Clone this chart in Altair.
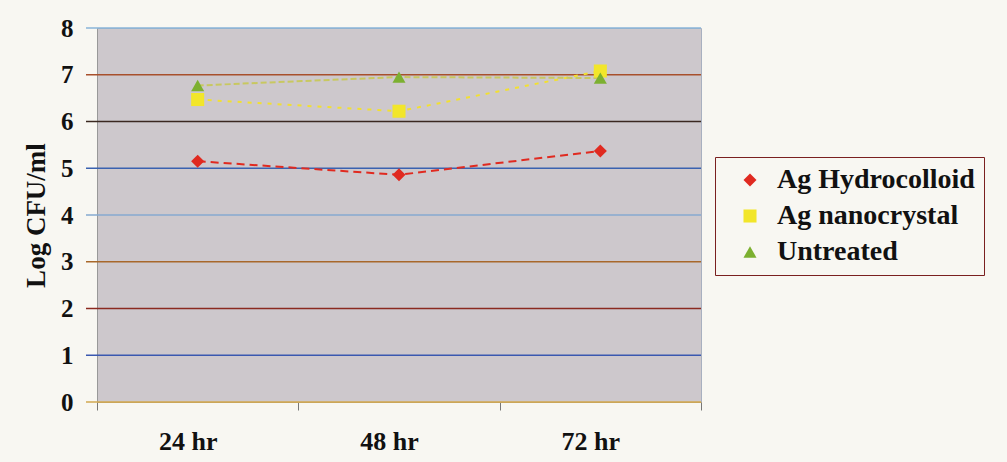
import altair as alt
import pandas as pd

times = ["24 hr", "48 hr", "72 hr"]
hydrocolloid = [5.15, 4.86, 5.37]
nanocrystal = [6.47, 6.22, 7.08]
untreated = [6.77, 6.95, 6.93]
series_names = ["Ag Hydrocolloid", "Ag nanocrystal", "Untreated"]

grid_values = [0, 1, 2, 3, 4, 5, 6, 7, 8]
grid_colors = ["#d2a850", "#3a58b0", "#8b2a20", "#a8682a", "#86aad0",
               "#3a62b0", "#3a2820", "#a8502c", "#8ab4d8"]

line_colors = ["#e02a20", "#f2e030", "#c8c860"]
line_dashes = [[8, 5], [4, 6], [6, 3]]
marker_colors = ["#e02a20", "#f2e62a", "#7cb030"]
marker_shapes = ["diamond", "square", "triangle-up"]

rows = []
for name, vals in zip(series_names, [hydrocolloid, nanocrystal, untreated]):
    for t, v in zip(times, vals):
        rows.append({"time": t, "value": v, "series": name})
df = pd.DataFrame(rows)
grid_df = pd.DataFrame({"v": grid_values})

W, H = 604, 374
FONT = "Liberation Serif"

x_enc = alt.X("time:N", sort=times, bandPosition=0.5,
              scale=alt.Scale(type="band", paddingInner=0, paddingOuter=0),
              axis=alt.Axis(title=None, tickBand="extent", labelAngle=0,
                            labelFont=FONT, labelFontWeight="bold", labelFontSize=26,
                            labelColor="#111", labelPadding=18, labelOffset=-10, tickSize=8,
                            tickColor="#777", domainColor="#b8a070", grid=False))
y_scale = alt.Scale(domain=[0, 8], nice=False)
y_axis = alt.Axis(title="Log CFU/ml", values=grid_values, ticks=False,
                  labelFont=FONT, labelFontWeight="bold", labelFontSize=25,
                  labelColor="#111", labelPadding=24, domainColor="#999",
                  grid=False, titleFont=FONT, titleFontWeight="bold",
                  titleFontSize=27, titleColor="#111", titlePadding=10)

layers = []
for gv, gc in zip(grid_values, grid_colors):
    layers.append(
        alt.Chart(grid_df).transform_filter(alt.datum.v == gv)
        .mark_rule(strokeWidth=1.6, color=gc)
        .encode(y=alt.Y("v:Q", scale=y_scale, axis=y_axis),
                x=alt.value(-11), x2=alt.value(W))
    )

for name, lc, ld in zip(series_names, line_colors, line_dashes):
    layers.append(
        alt.Chart(df).transform_filter(alt.datum.series == name)
        .mark_line(strokeWidth=2, color=lc, strokeDash=ld)
        .encode(x=x_enc, y=alt.Y("value:Q", scale=y_scale))
    )

points = alt.Chart(df).mark_point(filled=True, size=170, opacity=1, strokeWidth=0).encode(
    x=x_enc,
    y=alt.Y("value:Q", scale=y_scale),
    color=alt.Color("series:N", title=None,
                    scale=alt.Scale(domain=series_names, range=marker_colors)),
    shape=alt.Shape("series:N", title=None,
                    scale=alt.Scale(domain=series_names, range=marker_shapes)),
)
layers.append(points)

chart = alt.layer(*layers).properties(
    width=W, height=H,
    autosize=alt.AutoSizeParams(type="none"),
    padding={"left": 97, "top": 28, "right": 306, "bottom": 60},
    background="#f8f7f2",
).configure_view(
    fill="#cdc8cc", stroke="#a8b0c0", strokeWidth=1
).configure_legend(
    orient="none", legendX=618, legendY=129,
    labelFont=FONT, labelFontWeight="bold", labelFontSize=28, labelColor="#111",
    symbolSize=170, symbolStrokeWidth=0, padding=9, rowPadding=8,
    strokeColor="#7a2020", fillColor="#f8f7f2", labelLimit=400,
    symbolOffset=12, labelOffset=13,
)

chart.save("out.html", embed_options={"renderer": "svg", "actions": False})
